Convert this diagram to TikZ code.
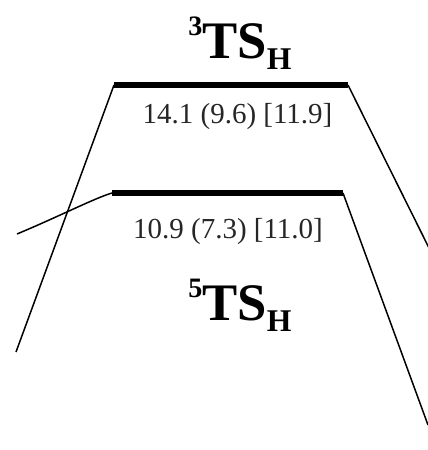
\documentclass[tikz,border=0pt]{standalone}
\usepackage{fontspec}
\setmainfont{Liberation Serif}
\usepackage{tikz}

\newcommand{\tsname}[1]{\raisebox{13pt}{\fontsize{16}{16}\selectfont #1}TS\raisebox{-6.8pt}{\fontsize{18}{18}\selectfont H}}

\begin{document}
\begin{tikzpicture}[
    x=0.02cm, y=-0.02cm,
    level/.style={line width=3.4pt},
    crossing/.style={line width=0.85pt},
    energy/.style={font=\fontsize{16.5}{16.5}\selectfont, text=black!85, inner sep=0pt, anchor=base},
    state/.style={font=\fontsize{30}{30}\selectfont\bfseries, inner sep=0pt, anchor=base}
]
\useasboundingbox (0,0) rectangle (428,450);
\coordinate (t3l) at (114,85);
\coordinate (t3r) at (348,85);
\coordinate (t5l) at (112,193);
\coordinate (t5r) at (343,193);
\coordinate (t3in) at (16,352);
\coordinate (t3out) at (430,250);
\coordinate (t5in) at (17,234);
\coordinate (t5out) at (428,425);
\node[state] (s3) at (240,58) {\tsname{3}};
\node[energy] (e3) at (237.5,123) {14.1 (9.6) [11.9]};
\node[energy] (e5) at (228,238) {10.9 (7.3) [11.0]};
\node[state] (s5) at (240,320) {\tsname{5}};
\draw[level] (t3l) -- (t3r);
\draw[level] (t5l) -- (t5r);
\draw[crossing] (t3in) -- (t3l);
\draw[crossing] (t3r) -- (t3out);
\draw[crossing] (t5in) .. controls (60,216) and (95,198) .. (t5l);
\draw[crossing] (t5r) -- (t5out);
\end{tikzpicture}
\end{document}
